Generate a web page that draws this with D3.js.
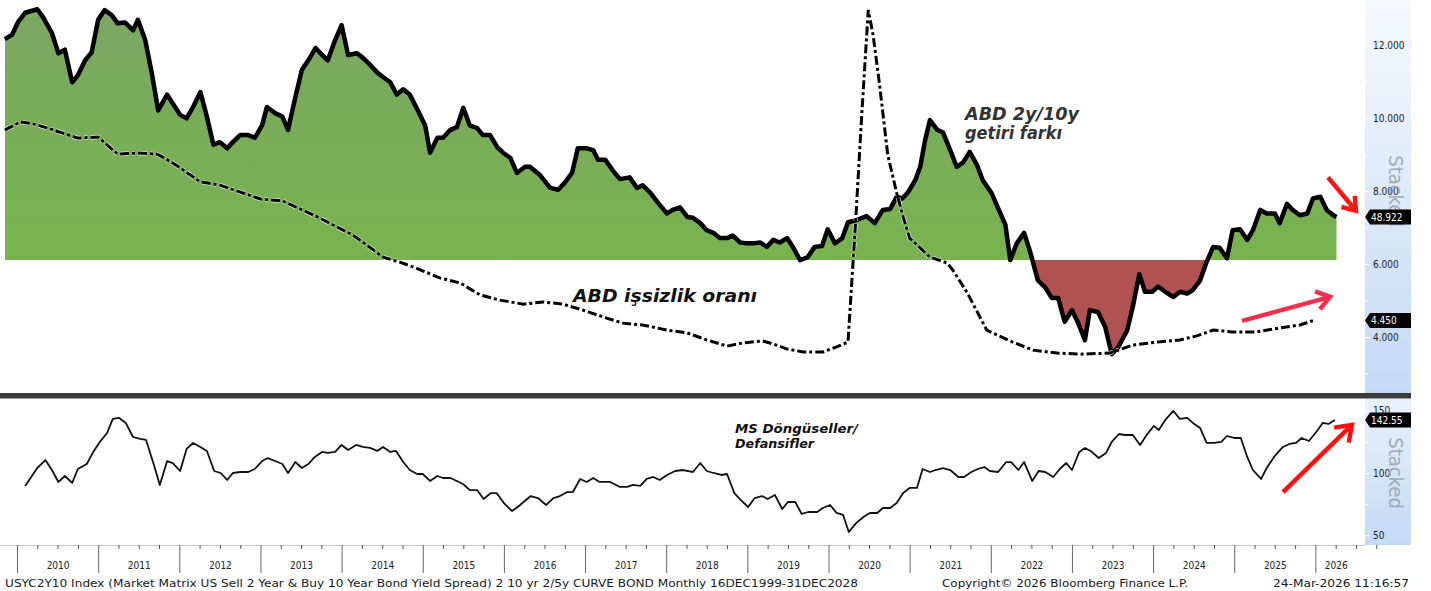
<!DOCTYPE html>
<html>
<head>
<meta charset="utf-8">
<script src="https://cdn.jsdelivr.net/npm/d3@7"></script>
<style>
  body { margin: 0; background: #fff; }
  svg { display: block; }
  text { font-family: Tahoma, "DejaVu Sans Condensed", "DejaVu Sans", sans-serif; }
</style>
</head>
<body>
<svg id="chart" width="1431" height="591"></svg>
<script>
// USYC2Y10 spread (bp), monthly
const spreadDates = [2009.85,2009.94,2010.01,2010.10,2010.25,2010.32,2010.43,2010.51,2010.59,2010.68,
  2010.75,2010.84,2010.92,2011.00,2011.08,2011.17,2011.24,2011.33,2011.43,2011.49,
  2011.58,2011.66,2011.74,2011.85,2011.92,2012.01,2012.09,2012.17,2012.26,2012.34,
  2012.42,2012.50,2012.59,2012.66,2012.75,2012.85,2012.93,2013.02,2013.08,2013.18,
  2013.27,2013.34,2013.43,2013.51,2013.59,2013.68,2013.76,2013.83,2013.92,2014.00,
  2014.08,2014.19,2014.26,2014.35,2014.44,2014.51,2014.60,2014.68,2014.76,2014.84,
  2014.94,2015.03,2015.09,2015.18,2015.25,2015.34,2015.42,2015.50,2015.58,2015.67,
  2015.74,2015.83,2015.92,2015.99,2016.08,2016.16,2016.26,2016.32,2016.44,2016.57,
  2016.67,2016.75,2016.84,2016.91,2017.02,2017.10,2017.16,2017.25,2017.34,2017.43,
  2017.55,2017.64,2017.71,2017.80,2017.90,2018.01,2018.08,2018.17,2018.26,2018.33,
  2018.42,2018.50,2018.58,2018.66,2018.75,2018.82,2018.91,2019.00,2019.07,2019.16,
  2019.24,2019.32,2019.40,2019.49,2019.56,2019.65,2019.74,2019.83,2019.92,2019.99,
  2020.08,2020.17,2020.24,2020.33,2020.47,2020.57,2020.67,2020.76,2020.84,2020.91,
  2020.98,2021.07,2021.13,2021.19,2021.25,2021.34,2021.41,2021.50,2021.58,2021.66,
  2021.74,2021.83,2021.90,2022.01,2022.09,2022.18,2022.24,2022.32,2022.41,2022.48,
  2022.58,2022.67,2022.75,2022.83,2022.91,2023.00,2023.07,2023.16,2023.22,2023.32,
  2023.41,2023.49,2023.57,2023.68,2023.75,2023.83,2023.90,2023.99,2024.06,2024.15,
  2024.25,2024.33,2024.42,2024.49,2024.58,2024.66,2024.74,2024.82,2024.91,2024.98,
  2025.07,2025.16,2025.23,2025.32,2025.40,2025.50,2025.56,2025.65,2025.72,2025.81,
  2025.90,2025.97,2026.06,2026.14,2026.22,2026.26];
const spreadValues = [251,256,270,281,285,276,258,235,239,202,
  210,227,236,273,284,278,269,270,261,273,
  250,213,170,188,178,165,161,174,191,163,
  131,134,127,134,142,142,139,153,174,167,
  163,148,185,216,227,241,233,227,250,267,
  233,235,230,222,213,208,202,188,194,188,
  170,153,122,139,139,148,151,173,153,150,
  142,142,128,122,116,99,106,106,97,82,
  80,88,99,127,127,125,114,114,102,92,
  94,82,85,77,65,53,57,60,49,48,
  42,34,31,25,25,28,20,19,19,20,
  15,23,20,25,15,0,3,15,16,35,
  19,25,43,45,50,42,57,58,72,70,
  77,91,106,136,159,148,145,125,106,111,
  123,108,91,76,59,40,0,19,31,11,
  -23,-31,-43,-43,-70,-57,-70,-91,-57,-59,
  -76,-107,-99,-80,-53,-16,-36,-36,-30,-36,
  -42,-36,-38,-34,-23,-2,15,14,2,34,
  35,23,34,57,53,53,42,64,57,51,
  53,70,72,57,51,48.922];

// US unemployment rate (3m avg, %)
const unempDates = [2009.85,2010.04,2010.20,2010.37,2010.75,2011.00,2011.24,2011.48,2011.73,2011.92,
  2012.26,2012.50,2013.00,2013.27,2013.73,2014.14,2014.26,2014.51,2014.72,2014.88,
  2015.21,2015.46,2015.71,2015.95,2016.24,2016.48,2016.73,2016.97,2017.22,2017.47,
  2017.71,2018.01,2018.26,2018.50,2018.75,2018.95,2019.19,2019.32,2019.49,2019.69,
  2019.93,2020.10,2020.24,2020.33,2020.41,2020.49,2020.55,2020.63,2020.73,2020.84,
  2020.92,2021.00,2021.25,2021.46,2021.53,2021.71,2021.95,2022.08,2022.27,2022.52,
  2022.82,2023.10,2023.47,2023.75,2024.05,2024.33,2024.54,2024.74,2024.98,2025.28,
  2025.56,2025.81,2025.97];
const unempValues = [9.67,9.89,9.84,9.73,9.45,9.48,9.01,9.04,9.01,8.77,
  8.25,8.16,7.78,7.73,7.26,6.79,6.60,6.19,6.05,5.92,
  5.62,5.48,5.15,5.01,4.90,4.96,4.90,4.74,4.55,4.38,
  4.33,4.19,4.11,3.92,3.75,3.84,3.89,3.81,3.67,3.59,
  3.59,3.73,3.86,7.0,10.1,12.96,12.27,10.90,8.99,7.95,
  7.29,6.71,6.19,6.03,5.84,5.21,4.19,4.05,3.86,3.64,
  3.56,3.53,3.56,3.78,3.86,3.92,4.03,4.19,4.14,4.14,
  4.25,4.33,4.45];

// MS cyclicals / defensives
const msDates = [2010.10,2010.25,2010.35,2010.43,2010.51,2010.59,2010.68,2010.75,2010.86,2010.94,
  2011.02,2011.11,2011.18,2011.26,2011.34,2011.43,2011.52,2011.59,2011.68,2011.76,
  2011.85,2011.92,2012.01,2012.09,2012.17,2012.26,2012.34,2012.43,2012.51,2012.59,
  2012.66,2012.75,2012.85,2012.93,2013.02,2013.09,2013.18,2013.27,2013.34,2013.43,
  2013.51,2013.59,2013.67,2013.76,2013.83,2013.92,2014.00,2014.08,2014.18,2014.26,
  2014.35,2014.44,2014.51,2014.60,2014.67,2014.76,2014.84,2014.93,2015.00,2015.09,
  2015.18,2015.25,2015.34,2015.42,2015.50,2015.58,2015.67,2015.75,2015.84,2015.91,
  2016.00,2016.10,2016.17,2016.33,2016.42,2016.52,2016.61,2016.69,2016.78,2016.85,
  2016.94,2017.02,2017.10,2017.18,2017.31,2017.43,2017.52,2017.59,2017.68,2017.76,
  2017.84,2017.92,2018.01,2018.11,2018.21,2018.33,2018.42,2018.50,2018.58,2018.68,
  2018.75,2018.84,2018.92,2019.01,2019.09,2019.18,2019.25,2019.34,2019.43,2019.50,
  2019.59,2019.67,2019.75,2019.86,2019.93,2020.02,2020.10,2020.18,2020.25,2020.34,
  2020.43,2020.51,2020.60,2020.67,2020.76,2020.84,2020.92,2021.00,2021.09,2021.16,
  2021.25,2021.32,2021.41,2021.50,2021.60,2021.67,2021.76,2021.84,2021.92,2021.99,
  2022.09,2022.19,2022.25,2022.34,2022.41,2022.51,2022.59,2022.67,2022.77,2022.85,
  2022.93,2023.00,2023.09,2023.16,2023.23,2023.33,2023.42,2023.49,2023.58,2023.65,
  2023.75,2023.84,2023.92,2024.01,2024.07,2024.15,2024.25,2024.33,2024.42,2024.49,
  2024.58,2024.66,2024.75,2024.84,2024.91,2025.00,2025.08,2025.16,2025.23,2025.33,
  2025.40,2025.49,2025.60,2025.68,2025.76,2025.83,2025.92,2026.02,2026.09,2026.16,
  2026.24];
const msValues = [89.6,104.0,110.4,102.4,92.8,97.6,92.0,103.2,107.2,116.9,
  124.9,132.1,143.4,144.2,140.2,128.9,127.3,126.5,108.0,90.4,
  109.6,108.0,101.6,119.3,124.1,120.9,117.7,101.6,100.0,94.4,
  100.0,100.8,100.8,103.2,109.6,112.0,109.6,107.2,100.0,108.8,
  104.0,107.2,112.9,116.9,116.1,116.9,122.5,118.5,122.5,120.9,
  120.1,117.7,120.9,116.9,117.7,108.8,102.4,99.2,99.2,93.6,
  97.6,96.0,96.0,93.6,91.0,86.3,86.3,79.1,83.9,83.9,
  75.9,69.5,72.7,81.5,79.9,74.3,79.9,81.5,84.7,84.7,
  95.2,92.8,96.0,92.8,92.8,88.8,88.8,90.4,89.6,95.2,
  96.8,94.4,98.4,101.6,102.4,100.8,108.0,101.6,100.0,98.4,
  99.2,83.9,78.3,72.7,79.9,81.5,79.1,82.3,71.1,76.7,
  76.7,67.1,68.7,68.7,71.9,74.3,67.9,66.3,52.6,59.8,
  64.7,67.9,67.9,71.9,71.9,75.9,83.9,88.0,88.0,103.2,
  100.8,102.4,104.0,102.4,96.8,96.8,100.8,103.2,104.8,101.6,
  100.8,108.8,108.8,102.4,108.8,93.6,101.6,100.8,96.8,103.2,
  108.0,102.4,116.9,120.1,117.7,112.0,116.1,124.9,131.3,130.5,
  130.5,122.5,130.5,137.8,134.5,142.6,149.8,143.4,144.2,140.2,
  136.1,124.1,124.1,124.9,129.7,128.1,128.1,112.9,102.4,95.2,
  104.0,112.9,120.9,123.3,124.1,128.1,125.7,133.7,140.2,139.4,
  142.55];

const yearTicks = [2010,2011,2012,2013,2014,2015,2016,2017,2018,2019,2020,2021,2022,2023,2024,2025,2026];
const yearLabelPos = [2010.5,2011.5,2012.5,2013.5,2014.5,2015.5,2016.5,2017.5,2018.5,2019.5,2020.5,2021.5,2022.5,2023.5,2024.5,2025.5,2026.25];
const unempTicks = [4,6,8,10,12];
const unempMinor = [3,5,7,9,11,13];
const msTicks = [50,100,150];
const msMinor = [75,125];

const footerLeft = 'USYC2Y10 Index (Market Matrix US Sell 2 Year & Buy 10 Year Bond Yield Spread) 2 10 yr 2/5y CURVE BOND Monthly 16DEC1999-31DEC2028';
const footerMid = 'Copyright\u00a9 2026 Bloomberg Finance L.P.';
const footerRight = '24-Mar-2026 11:16:57';

const spread = spreadDates.map((t, i) => ({t, v: spreadValues[i]}));
const unemp = unempDates.map((t, i) => ({t, v: unempValues[i]}));
const ms = msDates.map((t, i) => ({t, v: msValues[i]}));

const svg = d3.select('#chart');
const plotL = 5, plotR = 1365, axisR = 1411;
const topT = 0, topB = 393, botT = 399, botB = 545;

const x = d3.scaleLinear().domain([2010, 2026]).range([17, 1315.4]);
const ySpread = d3.scaleLinear().domain([-151, 295.5]).range([topB, topT]);
const yUnemp = d3.scaleLinear().domain([2.466, 13.233]).range([topB, topT]);
const yMS = d3.scaleLinear().domain([42.2, 159.4]).range([botB, botT]);
const zeroY = ySpread(0);

const defs = svg.append('defs');
const gGreen = defs.append('linearGradient').attr('id', 'gGreen')
  .attr('gradientUnits', 'userSpaceOnUse').attr('x1', 0).attr('y1', 0).attr('x2', 0).attr('y2', zeroY);
gGreen.append('stop').attr('offset', 0).attr('stop-color', '#7ba763');
gGreen.append('stop').attr('offset', 1).attr('stop-color', '#79b34f');

function blueGrad(id, y1, y2, c1) {
  const g = defs.append('linearGradient').attr('id', id)
    .attr('gradientUnits', 'userSpaceOnUse').attr('x1', 0).attr('y1', y1).attr('x2', 0).attr('y2', y2);
  g.append('stop').attr('offset', 0).attr('stop-color', c1);
  g.append('stop').attr('offset', 1).attr('stop-color', '#c3daf5');
}
blueGrad('gBlueTop', topT, topB, '#f6f9fe');
blueGrad('gBlueBot', botT, botB, '#e9f1fc');

defs.append('clipPath').attr('id', 'clipAbove').append('rect')
  .attr('x', plotL).attr('y', topT).attr('width', plotR - plotL).attr('height', zeroY - topT);
defs.append('clipPath').attr('id', 'clipBelow').append('rect')
  .attr('x', plotL).attr('y', zeroY).attr('width', plotR - plotL).attr('height', topB - zeroY);

// right axis panels
svg.append('rect').attr('x', plotR).attr('y', topT).attr('width', axisR - plotR).attr('height', topB - topT)
  .attr('fill', 'url(#gBlueTop)');
svg.append('rect').attr('x', plotR).attr('y', botT).attr('width', axisR - plotR).attr('height', botB - botT)
  .attr('fill', 'url(#gBlueBot)');

// spread area, green above zero and red below
const area = d3.area().x(d => x(d.t)).y0(zeroY).y1(d => ySpread(d.v));
svg.append('path').datum(spread).attr('d', area).attr('fill', 'url(#gGreen)').attr('clip-path', 'url(#clipAbove)');
svg.append('path').datum(spread).attr('d', area).attr('fill', '#b15252').attr('clip-path', 'url(#clipBelow)');

svg.append('path').datum(spread)
  .attr('d', d3.line().x(d => x(d.t)).y(d => ySpread(d.v)))
  .attr('fill', 'none').attr('stroke', '#000').attr('stroke-width', 4.5)
  .attr('stroke-linejoin', 'round');

// unemployment dash-dot line
const unempLine = d3.line().x(d => x(d.t)).y(d => yUnemp(d.v));
svg.append('path').datum(unemp).attr('d', unempLine)
  .attr('fill', 'none').attr('stroke', '#fff').attr('stroke-width', 4.5)
  .attr('stroke-dasharray', '9,3,3,3').attr('opacity', 0.8);
svg.append('path').datum(unemp).attr('d', unempLine)
  .attr('fill', 'none').attr('stroke', '#000').attr('stroke-width', 3)
  .attr('stroke-dasharray', '9,3,3,3');

// separator between panels
svg.append('rect').attr('x', 0).attr('y', topB).attr('width', axisR).attr('height', 6).attr('fill', '#3c3c3c');
svg.append('line').attr('x1', 0).attr('x2', axisR).attr('y1', botT - 0.5).attr('y2', botT - 0.5).attr('stroke', '#9a9a9a');

// MS line
svg.append('path').datum(ms)
  .attr('d', d3.line().x(d => x(d.t)).y(d => yMS(d.v)))
  .attr('fill', 'none').attr('stroke', '#111').attr('stroke-width', 1.8)
  .attr('stroke-linejoin', 'round');

// x axis
const xg = svg.append('g').attr('transform', `translate(0,${botB})`);
xg.append('line').attr('x1', 0).attr('x2', plotR).attr('y1', 0.5).attr('y2', 0.5).attr('stroke', '#c6cad1');
const quarters = d3.range(2009.75, 2026.76, 0.25).filter(q => q % 1 !== 0);
xg.append('g').call(d3.axisBottom(x).tickValues(quarters).tickSize(4).tickFormat(''))
  .call(g => g.select('.domain').remove())
  .call(g => g.selectAll('line').attr('stroke', '#555'));
xg.append('g').call(d3.axisBottom(x).tickValues(yearTicks).tickSize(28).tickFormat(''))
  .call(g => g.select('.domain').remove())
  .call(g => g.selectAll('line').attr('stroke', '#666'));
xg.append('g').call(d3.axisBottom(x).tickValues(yearLabelPos).tickSize(0).tickPadding(17)
    .tickFormat(d => Math.floor(d)))
  .call(g => g.select('.domain').remove())
  .call(g => g.selectAll('text').attr('font-size', 10).attr('fill', '#222')
    .attr('font-family', 'Tahoma, "DejaVu Sans Condensed", "DejaVu Sans", sans-serif'));

// right axes
function rightAxis(scale, ticks, minor, fmt) {
  const g = svg.append('g').attr('transform', `translate(${plotR},0)`);
  g.append('g').call(d3.axisRight(scale).tickValues(minor).tickSize(3).tickFormat(''))
    .call(a => a.select('.domain').remove())
    .call(a => a.selectAll('line').attr('stroke', '#fff'));
  g.append('g').call(d3.axisRight(scale).tickValues(ticks).tickSize(5).tickPadding(3).tickFormat(fmt))
    .call(a => a.select('.domain').remove())
    .call(a => a.selectAll('line').attr('stroke', '#fff'))
    .call(a => a.selectAll('text').attr('font-size', 10).attr('fill', '#1c1c28')
      .attr('font-family', 'Tahoma, "DejaVu Sans Condensed", "DejaVu Sans", sans-serif'));
}
rightAxis(yUnemp, unempTicks, unempMinor, d3.format('.3f'));
rightAxis(yMS, msTicks, msMinor, d3.format('d'));

// "Stacked" watermark
[[yUnemp(8.0), 'Stacked'], [yMS(100), 'Stacked']].forEach(([cy, s]) => {
  svg.append('text').attr('transform', `translate(1396,${cy}) rotate(90)`)
    .attr('text-anchor', 'middle').attr('dominant-baseline', 'central')
    .attr('font-family', '"DejaVu Sans", sans-serif').attr('font-size', 20)
    .attr('fill', '#a2aab5').text(s);
});

// last value tags
function valueTag(y, txt) {
  svg.append('path')
    .attr('d', `M${plotR},${y} L${plotR + 5},${y - 7.5} L${axisR},${y - 7.5} L${axisR},${y + 7.5} L${plotR + 5},${y + 7.5} Z`)
    .attr('fill', '#000');
  svg.append('text').attr('x', plotR + 6).attr('y', y + 3.6).attr('font-size', 10)
    .attr('fill', '#fff').text(txt);
}
valueTag(ySpread(spreadValues[spreadValues.length - 1]), '48.922');
valueTag(yUnemp(unempValues[unempValues.length - 1]), '4.450');
valueTag(yMS(msValues[msValues.length - 1]), '142.55');

// annotations
const ann = (xp, yp, s, size, len, fill) => svg.append('text')
  .attr('x', xp).attr('y', yp).attr('font-size', size).attr('font-weight', 'bold')
  .attr('font-style', 'italic').attr('fill', fill)
  .attr('font-family', '"DejaVu Sans", Verdana, sans-serif')
  .attr('textLength', len).attr('lengthAdjust', 'spacingAndGlyphs').text(s);
ann(965, 120, 'ABD 2y/10y', 17, 114, '#333');
ann(965, 139, 'getiri fark\u0131', 17, 97, '#333');
ann(573, 302, 'ABD i\u015fsizlik oran\u0131', 17, 184, '#111');
ann(735, 433, 'MS D\u00f6ng\u00fcseller/', 13, 123, '#111');
ann(735, 448, 'Defansifler', 13, 79, '#111');

// red arrows
function arrow(x1, y1, x2, y2, color, head) {
  const a = Math.atan2(y2 - y1, x2 - x1), s = 0.62;
  svg.append('path')
    .attr('d', `M${x1},${y1} L${x2},${y2} M${x2 - head * Math.cos(a - s)},${y2 - head * Math.sin(a - s)} L${x2},${y2} L${x2 - head * Math.cos(a + s)},${y2 - head * Math.sin(a + s)}`)
    .attr('fill', 'none').attr('stroke', color).attr('stroke-width', 4.5)
    .attr('stroke-linecap', 'butt').attr('stroke-linejoin', 'miter');
}
arrow(x(2026.155), ySpread(94), x(2026.50), ySpread(56), '#ff1414', 15);
arrow(x(2025.095), yUnemp(4.44), x(2026.18), yUnemp(5.10), '#f5304c', 16);
arrow(x(2025.60), yMS(84.7), x(2026.45), yMS(138.6), '#ff1010', 18);

// footer
const foot = (xp, s, len) => svg.append('text').attr('x', xp).attr('y', 587).attr('font-size', 11)
  .attr('fill', '#1a1a1a').attr('textLength', len).attr('lengthAdjust', 'spacingAndGlyphs').text(s);
foot(5, footerLeft, 853);
foot(942, footerMid, 246);
foot(1273, footerRight, 136);
</script>
</body>
</html>
